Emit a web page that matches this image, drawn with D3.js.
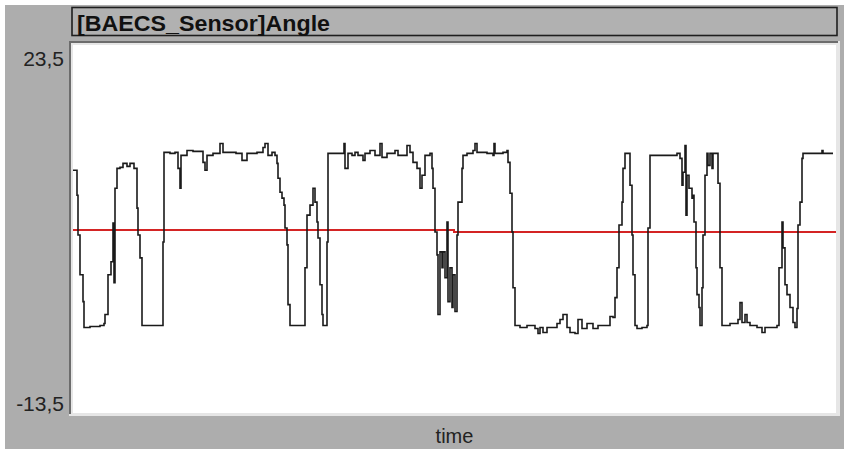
<!DOCTYPE html>
<html>
<head>
<meta charset="utf-8">
<script src="https://cdn.jsdelivr.net/npm/d3@7"></script>
<style>
  body { margin: 0; background: #ffffff; }
  svg { display: block; }
</style>
</head>
<body>
<div id="chart"></div>
<script>
// sensor samples (time index, angle)
var times = [0,2,4,5,7,10,11,17,27,31,32,35,38,40,41,42,44,47,50,54,57,61,64,65,67,69,89,90,91,97,102,105,107,108,114,120,130,132,134,140,147,150,163,169,174,184,190,
  192,195,199,202,204,205,207,209,211,212,214,215,217,230,232,234,237,240,242,244,245,247,249,250,253,254,255,270,271,272,275,279,282,285,290,292,297,302,307,309,314,322,325,334,337,340,344,347,349,352,357,359,360,362,364,365,367,369,370,372,374,375,377,379,380,382,384,385,
  387,389,390,394,400,402,404,414,420,421,422,430,434,435,437,439,440,442,447,454,462,465,467,470,474,484,487,490,494,497,502,505,509,514,520,525,534,537,540,542,544,546,549,550,552,555,557,559,560,562,564,569,574,575,577,
  604,607,609,610,612,613,614,616,619,620,621,623,624,626,627,629,630,632,634,635,637,639,640,644,645,647,649,657,665,667,669,672,674,677,684,689,692,704,706,709,710,712,714,717,720,722,724,725,727,729,730,744,749,750,760];
var angles = [10.9,10.9,8.4,4.4,0.4,-2.3,-4.9,-4.8,-4.7,-4.5,-3.6,0.4,1.7,5.6,-0.4,9.1,11.1,11.2,11.6,11.3,11.6,11.1,7.1,4.4,2.1,-4.7,-4.7,3.7,12.7,12.6,12.7,11.1,9.1,12.4,12.9,12.8,11.7,10.9,12.4,12.6,13.6,12.7,12.6,11.9,12.6,12.7,13.2,
  13.6,12.4,12.7,12.4,11.6,10.1,8.7,8.1,7.4,5.1,3.4,-2.6,-4.7,-4.7,1.1,6.4,7.4,9.1,7.7,5.7,4.1,-0.6,-3.6,-4.7,-4.7,3.7,12.6,12.6,13.6,11.1,12.6,12.4,12.7,12.4,11.9,12.6,12.9,12.4,13.6,12.2,12.6,12.9,12.4,13.4,12.7,11.7,11.1,9.1,10.4,12.4,12.6,11.1,9.1,4.7,2.4,-3.6,2.7,1.1,2.7,0.1,5.7,-2.3,1.1,-2.9,0.4,-3.3,4.4,7.7,
  7.7,11.1,12.4,12.6,12.9,13.6,12.7,12.6,12.4,13.6,12.6,12.7,12.9,11.7,8.6,4.7,-0.9,-4.7,-4.9,-4.7,-5.0,-5.5,-4.9,-5.4,-4.9,-4.5,-4.1,-3.6,-4.9,-5.4,-5.5,-4.1,-5.0,-4.5,-5.0,-4.7,-4.7,-3.8,-3.9,-1.9,1.1,5.4,7.7,11.1,12.6,12.6,9.4,4.4,0.4,-4.7,-5.0,-4.9,-4.7,5.1,12.4,
  12.6,12.1,9.4,10.7,13.4,6.4,10.4,9.1,8.1,8.4,5.7,1.1,-1.6,-2.9,-4.7,-0.9,4.4,10.4,12.6,11.4,12.6,11.1,12.6,12.6,9.6,1.1,-4.7,-4.5,-4.1,-2.4,-4.4,-3.6,-4.4,-4.7,-4.9,-5.4,-4.9,-4.7,1.1,5.7,3.1,-0.6,-1.6,-2.9,-4.4,-4.9,-3.0,5.4,7.7,12.1,12.6,12.6,12.9,12.6,12.6];

// red reference line
var refTimes = [0,380,381,763];
var refAngles = [4.9,4.9,4.7,4.7];

var yTicks = [23.5,-13.5];
var title = "[BAECS_Sensor]Angle";
var xLabel = "time";

var width = 844, height = 449;
var margin = {top:45,right:8,bottom:36,left:73};

var svg = d3.select('#chart')
    .append('svg')
        .attr('width',width)
        .attr('height',height);

// window background
svg.append('rect')
    .attr('x',5).attr('y',5)
    .attr('width',width-5).attr('height',height-5)
    .attr('fill','#adadad');

// title bar
svg.append('rect')
    .attr('x',72).attr('y',7.5)
    .attr('width',765).attr('height',28)
    .attr('fill','#b1b1b1')
    .attr('stroke','#1e1e1e')
    .attr('stroke-width',1.6);
svg.append('text')
    .attr('x',77).attr('y',31)
    .attr('textLength',253)
    .attr('lengthAdjust','spacingAndGlyphs')
    .style('font-family','"Liberation Sans", Arial, sans-serif')
    .style('font-weight','bold')
    .style('font-size','22px')
    .attr('fill','#111')
    .text(title);

var x = d3.scaleLinear()
    .domain([0,763])
    .range([margin.left,width-margin.right]);
var y = d3.scaleLinear()
    .domain([-13.5,23.5])
    .range([height-margin.bottom,margin.top]);

// sunken plot frame
svg.append('rect')
    .attr('x',69).attr('y',41)
    .attr('width',771).attr('height',375)
    .attr('fill','#e6e6e6');
svg.append('path')
    .attr('d','M70,414 V42 H838')
    .attr('fill','none')
    .attr('stroke','#6c6c6c')
    .attr('stroke-width',2);
svg.append('rect')
    .attr('x',x(0)).attr('y',y(23.5))
    .attr('width',x(763)-x(0)).attr('height',y(-13.5)-y(23.5))
    .attr('fill','#ffffff');

var locale = d3.formatLocale({decimal:',',thousands:'.',grouping:[3],currency:['',''],minus:'-'});
var yAxis = d3.axisLeft(y)
    .tickValues(yTicks)
    .tickSize(0)
    .tickPadding(9)
    .tickFormat(locale.format('.1f'));
var gy = svg.append('g')
    .attr('transform','translate('+margin.left+',0)')
    .call(yAxis);
gy.select('.domain').remove();
gy.selectAll('text')
    .style('font-family','"Liberation Sans", Arial, sans-serif')
    .style('font-size','21px')
    .attr('fill','#222')
    .attr('dy', d => d > 0 ? '0.98em' : '-0.12em');

svg.append('text')
    .attr('x',(x(0)+x(763))/2)
    .attr('y',443)
    .attr('text-anchor','middle')
    .style('font-family','"Liberation Sans", Arial, sans-serif')
    .style('font-size','20px')
    .attr('fill','#222')
    .text(xLabel);

var sensor = times.map((t,i) => ({t:t, v:angles[i]}));
var ref = refTimes.map((t,i) => ({t:t, v:refAngles[i]}));

var line = d3.line()
    .x(d => x(d.t))
    .y(d => y(d.v))
    .curve(d3.curveStepAfter);

svg.append('path')
    .datum(ref)
    .attr('d',line)
    .attr('fill','none')
    .attr('stroke','#d42424')
    .attr('stroke-width',2);

svg.append('path')
    .datum(sensor)
    .attr('d',line)
    .attr('fill','none')
    .attr('stroke','#1a1a1a')
    .attr('stroke-width',1.6)
    .attr('stroke-linejoin','miter');
</script>
</body>
</html>
